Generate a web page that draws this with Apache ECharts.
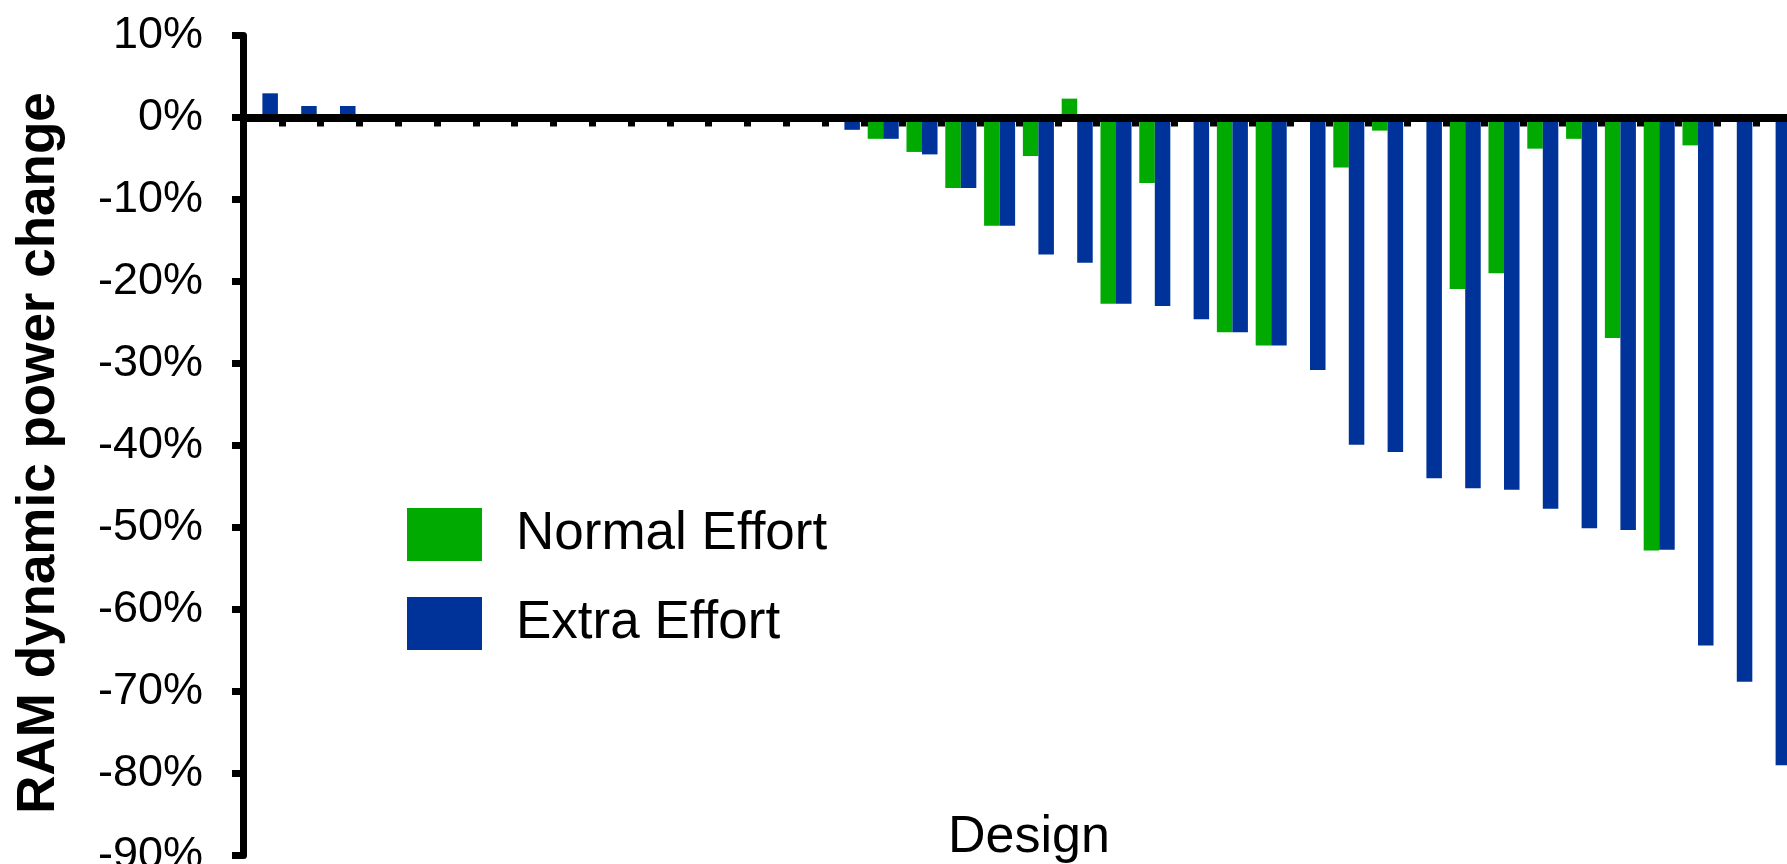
<!DOCTYPE html>
<html>
<head>
<meta charset="utf-8">
<script src="https://cdn.jsdelivr.net/npm/echarts@6/dist/echarts.min.js"></script>
<style>
  html, body { margin: 0; padding: 0; background: #ffffff; }
  #chart { width: 1787px; height: 864px; }
</style>
</head>
<body>
<div id="chart"></div>
<script>
// ---- data ----
const categories = ['1','2','3','4','5','6','7','8','9','10',
                    '11','12','13','14','15','16','17','18','19','20',
                    '21','22','23','24','25','26','27','28','29','30',
                    '31','32','33','34','35','36','37','38','39','40'];
const seriesNames = ['Normal Effort', 'Extra Effort'];
const normalEffort = [null, null, null, null, null, null, null, null, null, null,
                      null, null, null, null, null, null, -2.6, -4.2, -8.6, -13.2,
                      -4.7, 2.3, -22.7, -8.0, null, -26.2, -27.8, null, -6.1, -1.6,
                      null, -20.9, -19.0, -3.8, -2.6, -26.9, -52.8, -3.4, null, null];
const extraEffort = [2.95, 1.4, 1.4, null, null, null, null, null, null, null,
                     null, null, null, null, null, -1.5, -2.6, -4.5, -8.6, -13.2,
                     -16.7, -17.7, -22.7, -23.0, -24.6, -26.2, -27.8, -30.8, -39.9, -40.8,
                     -44.0, -45.2, -45.4, -47.7, -50.1, -50.3, -52.7, -64.4, -68.8, -79.0];
const yMin = -90, yMax = 10, yStep = 10;
const yAxisTitle = 'RAM dynamic power change';
const xAxisTitle = 'Design';

// ---- chart ----
const FONT = 'Liberation Sans, Arial, Helvetica, sans-serif';
const chart = echarts.init(document.getElementById('chart'), null, { renderer: 'canvas' });
chart.setOption({
  animation: false,
  backgroundColor: '#ffffff',
  textStyle: { fontFamily: FONT, color: '#000' },
  grid: { left: 243, right: -8, top: 35.5, bottom: 8.5, containLabel: false, outerBoundsMode: 'none' },
  legend: {
    orient: 'vertical',
    left: 407, top: 508, padding: 0,
    itemWidth: 75, itemHeight: 53, itemGap: 36,
    icon: 'rect',
    selectedMode: false,
    data: seriesNames,
    textStyle: { fontFamily: FONT, fontSize: 53, color: '#000', padding: [0, 0, 0, 29] }
  },
  graphic: [{
    type: 'text',
    left: 1028 - 80, top: 812,
    z: 10,
    style: { text: xAxisTitle, fontFamily: FONT, fontSize: 52, fill: '#000' }
  }],
  xAxis: {
    type: 'category',
    data: categories,
    z: 5,
    axisLine: { show: true, onZero: true, lineStyle: { color: '#000', width: 8 } },
    axisTick: { show: true, interval: 0, alignWithLabel: false, length: 9, lineStyle: { color: '#000', width: 7 } },
    axisLabel: { show: false },
    splitLine: { show: false }
  },
  yAxis: {
    type: 'value',
    min: yMin, max: yMax, interval: yStep,
    z: 5,
    name: yAxisTitle,
    nameLocation: 'middle',
    nameGap: 177,
    nameRotate: 90,
    nameTextStyle: { fontFamily: FONT, fontSize: 53, fontWeight: 'bold', color: '#000', padding: [0, 15, 0, 0] },
    axisLine: { show: true, lineStyle: { color: '#000', width: 7 } },
    axisTick: { show: true, length: 11, lineStyle: { color: '#000', width: 7 } },
    axisLabel: { formatter: '{value}%', fontFamily: FONT, fontSize: 45, color: '#000', margin: 40 },
    splitLine: { show: false }
  },
  series: [
    { name: seriesNames[0], type: 'bar', data: normalEffort, barGap: '0%', barCategoryGap: '20%',
      itemStyle: { color: '#00AA00' } },
    { name: seriesNames[1], type: 'bar', data: extraEffort, barGap: '0%', barCategoryGap: '20%',
      itemStyle: { color: '#003399' } }
  ]
});
</script>
</body>
</html>
